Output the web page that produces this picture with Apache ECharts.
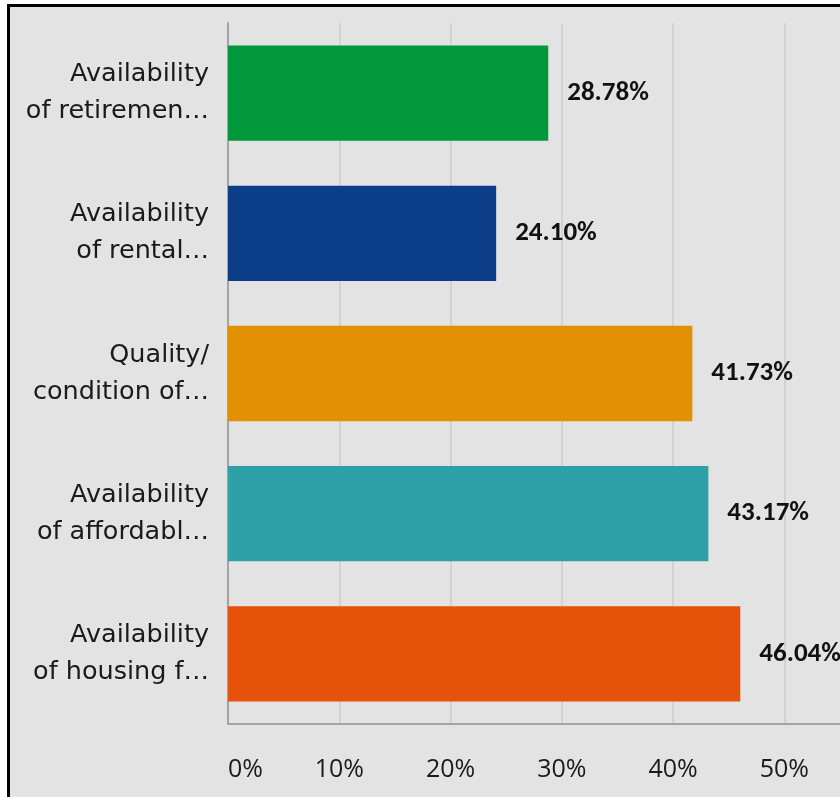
<!DOCTYPE html>
<html>
<head>
<meta charset="utf-8">
<script src="https://cdn.jsdelivr.net/npm/echarts@6/dist/echarts.min.js"></script>
<style>
  html, body { margin: 0; padding: 0; background: #ffffff; }
  #chart { width: 840px; height: 797px; }
</style>
</head>
<body>
<div id="chart"></div>
<script>
// Survey responses: share of respondents naming each housing issue
const categories = [
  'Availability\nof retiremen…',
  'Availability\nof rental…',
  'Quality/\ncondition of…',
  'Availability\nof affordabl…',
  'Availability\nof housing f…'
];
const percentages = [28.78, 24.10, 41.73, 43.17, 46.04];
const barColors = ['#00983a', '#0b3d89', '#e09000', '#2da1a7', '#e5530a'];
const tickValues = [0, 10, 20, 30, 40, 50];

const chart = echarts.init(document.getElementById('chart'), null, { renderer: 'canvas' });

chart.setOption({
  backgroundColor: '#ffffff',
  animation: false,
  graphic: [
    { type: 'rect', z: -10, shape: { x: 8, y: 5, width: 840, height: 800 }, style: { fill: '#e3e3e3' } },
    { type: 'rect', z: 100, shape: { x: 7, y: 4, width: 840, height: 3 }, style: { fill: '#000000' } },
    { type: 'rect', z: 100, shape: { x: 7, y: 4, width: 3, height: 800 }, style: { fill: '#000000' } }
  ],
  grid: { left: 228, right: 0, top: 23, bottom: 73, containLabel: false },
  xAxis: {
    type: 'value',
    min: 0,
    max: 55,
    interval: 10,
    axisLine: { show: true, lineStyle: { color: '#a3a3a3', width: 2 } },
    axisTick: { show: false },
    splitLine: { show: true, showMaxLine: false, lineStyle: { color: '#d2d2d2', width: 2 } },
    axisLabel: {
      margin: 33,
      showMaxLabel: false,
      alignMinLabel: 'left',
      color: '#1a1a1a',
      fontFamily: 'Open Sans',
      fontSize: 25,
      formatter: function (v) { return tickValues.indexOf(v) >= 0 ? v + '%' : ''; }
    }
  },
  yAxis: {
    type: 'category',
    inverse: true,
    data: categories,
    axisLine: { show: true, lineStyle: { color: '#a3a3a3', width: 2 } },
    axisTick: { show: false },
    axisLabel: {
      margin: 19,
      color: '#1a1a1a',
      fontFamily: 'DejaVu Sans',
      fontSize: 25.5,
      lineHeight: 37,
      align: 'right'
    }
  },
  series: [{
    type: 'bar',
    barCategoryGap: '32%',
    data: percentages.map(function (v, i) {
      return { value: v, itemStyle: { color: barColors[i] } };
    }),
    label: {
      show: true,
      position: 'right',
      distance: 19,
      color: '#111111',
      fontFamily: 'Carlito, Lato, sans-serif',
      fontWeight: 'bold',
      fontSize: 27,
      formatter: function (p) { return p.value.toFixed(2) + '%'; }
    }
  }]
});
</script>
</body>
</html>
